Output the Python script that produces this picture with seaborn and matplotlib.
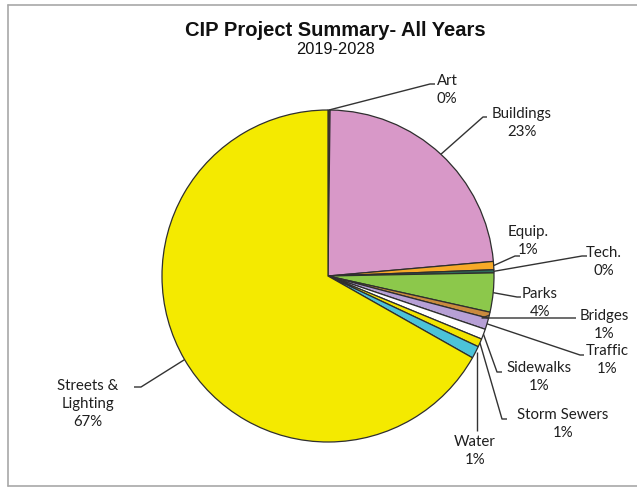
import numpy as np
import matplotlib
matplotlib.use("Agg")
import matplotlib.pyplot as plt
import seaborn as sns

# CIP project spending share by category (percent of total, 2019-2028)
categories = ["Art", "Buildings", "Equip.", "Tech.", "Parks", "Bridges",
              "Traffic", "Sidewalks", "Storm Sewers", "Water", "Streets &\nLighting"]
shares = [0.2, 23.4, 0.8, 0.3, 3.8, 0.6, 1.1, 1.0, 0.8, 1.2, 66.8]
slice_colors = ["#9A4A1C", "#D898C8", "#F7A928", "#2E6B5A", "#8CC84B", "#C98A3E",
                "#B7A0D6", "#FFFFFF", "#F2E400", "#4CC3D9", "#F4EA00"]

sns.set_theme(style="white")
plt.rcParams["font.family"] = ["Lato", "DejaVu Sans"]

W, H = 637, 487
fig = plt.figure(figsize=(W / 100, H / 100), dpi=100)
ax = fig.add_axes([0, 0, 1, 1])

# work in pixel-like coordinates, y measured from the bottom
def py(y):
    return H - y

cx, cy, R = 328, py(276), 166
wedges, _ = ax.pie(shares, colors=slice_colors, startangle=90, counterclock=False,
                   center=(cx, cy), radius=R,
                   wedgeprops=dict(edgecolor="#2e2e2e", linewidth=0.9))

ax.set_xlim(0, W)
ax.set_ylim(0, H)
ax.set_aspect("equal")
ax.axis("off")

# label layout: text centre (x, y) and leader path after the wedge edge point
layout = {
    "Art":          dict(text=(447, 90),  path=[(430, 84), (435, 84)]),
    "Buildings":    dict(text=(522, 123), path=[(483, 117), (487, 117)]),
    "Equip.":       dict(text=(528, 241), path=[(515, 256), (520, 256)]),
    "Tech.":        dict(text=(604, 262), path=[(582, 256), (587, 256)]),
    "Parks":        dict(text=(540, 303), path=[(517, 297), (521, 297)]),
    "Bridges":      dict(text=(604, 325), path=[(482, 318), (576, 318)]),
    "Traffic":      dict(text=(607, 360), path=[(580, 355), (584, 355)]),
    "Sidewalks":    dict(text=(539, 377), path=[(497, 372), (502, 372)]),
    "Storm Sewers": dict(text=(563, 424), path=[(502, 419), (507, 419)]),
    "Water":        dict(text=(475, 451), path=[(477, 431)]),
    "Streets &\nLighting": dict(text=(88, 404), path=[(141, 387), (134, 387)]),
}

line_col = "#333333"
for name, share, w in zip(categories, shares, wedges):
    mid = np.deg2rad((w.theta1 + w.theta2) / 2)
    ex, ey = cx + R * np.cos(mid), cy + R * np.sin(mid)
    spec = layout[name]
    xs = [ex] + [p[0] for p in spec["path"]]
    ys = [ey] + [py(p[1]) for p in spec["path"]]
    if name == "Water":
        xs[0] = xs[1]
    ax.plot(xs, ys, color=line_col, lw=1.0, solid_capstyle="butt", zorder=3)
    tx, ty = spec["text"]
    ax.text(tx, py(ty), f"{name}\n{round(share):.0f}%", ha="center", va="center",
            fontsize=10.8, color="#1f1f1f", linespacing=1.35, zorder=4)

# titles
ax.text(W / 2 + 17, py(30), "CIP Project Summary- All Years", ha="center", va="center",
        fontsize=14.5, fontweight="bold", family="Liberation Sans", color="#111111")
ax.text(W / 2 + 17, py(49), "2019-2028", ha="center", va="center",
        fontsize=11.8, family="Liberation Sans", color="#111111")

# chart frame
frame_col = "#a8a8a8"
ax.plot([8, 8], [py(5), py(486)], color=frame_col, lw=1.2)
ax.plot([8, W], [py(5), py(5)], color=frame_col, lw=1.2)
ax.plot([8, W], [py(486), py(486)], color=frame_col, lw=1.2)

fig.savefig("out.png", dpi=100)
